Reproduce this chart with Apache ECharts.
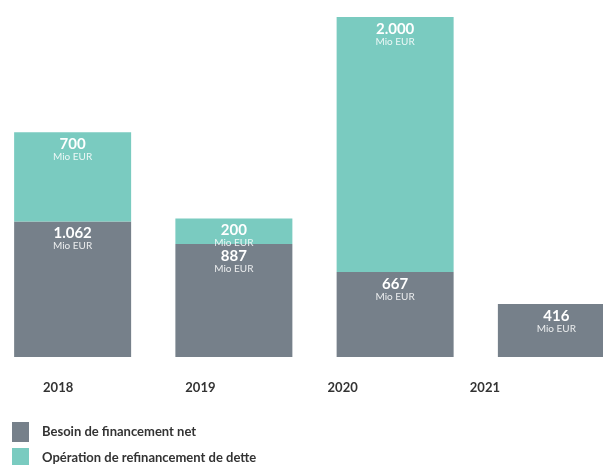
<!DOCTYPE html>
<html>
<head>
<meta charset="utf-8">
<script src="https://cdn.jsdelivr.net/npm/echarts@6/dist/echarts.min.js"></script>
<style>
  html, body { margin: 0; padding: 0; background: #fff; }
  #chart { width: 603px; height: 465px; }
</style>
</head>
<body>
<div id="chart"></div>
<script>
var years = ['2018', '2019', '2020', '2021'];
var besoin = [1062, 887, 667, 416];
var refinancement = [700, 200, 2000, '-'];
var seriesNames = ['Besoin de financement net', 'Opération de refinancement de dette'];

var totals = besoin.map(function (v, i) {
    return v + (refinancement[i] === '-' ? 0 : refinancement[i]);
});

function fmt(n) {
    return String(n).replace(/\B(?=(\d{3})+(?!\d))/g, '.');
}

var labelOpt = {
    show: true,
    position: 'insideTop',
    distance: 5,
    formatter: function (p) {
        return '{v|' + fmt(p.value) + '}\n{u|Mio EUR}';
    },
    rich: {
        v: { color: '#fff', fontSize: 15, fontWeight: 'bold', fontFamily: 'Lato', lineHeight: 14 },
        u: { color: 'rgba(255,255,255,0.85)', fontSize: 10, fontFamily: 'Lato', lineHeight: 11 }
    }
};

var legendText = { color: '#333', fontSize: 13, fontWeight: 'bold', fontFamily: 'Lato', padding: [0, 0, 0, 8] };

var chart = echarts.init(document.getElementById('chart'));
var option = {
    animation: false,
    textStyle: { fontFamily: 'Lato' },
    // two legends so the second row can run past the bottom edge
    legend: [
        {
            left: 12, top: 422, padding: 0, itemWidth: 17, itemHeight: 20, icon: 'rect',
            textStyle: legendText, data: [seriesNames[0]]
        },
        {
            left: 12, top: 448, padding: 0, itemWidth: 17, itemHeight: 20, icon: 'rect',
            textStyle: legendText, data: [seriesNames[1]]
        }
    ],
    grid: [
        { left: -8, right: -34, top: 17, bottom: 108, outerBoundsMode: 'none' },
        { left: -13, right: 47, top: 17, bottom: 108, outerBoundsMode: 'none' }
    ],
    xAxis: [
        {
            type: 'category', gridIndex: 0, data: years,
            axisLine: { show: false }, axisTick: { show: false }, axisLabel: { show: false }
        },
        {
            type: 'category', gridIndex: 1, data: years,
            axisLine: { show: false }, axisTick: { show: false },
            axisLabel: { color: '#333', fontSize: 13, fontWeight: 'bold', fontFamily: 'Lato', margin: 24 }
        }
    ],
    yAxis: [
        { type: 'value', gridIndex: 0, min: 0, max: Math.max.apply(null, totals), show: false },
        { type: 'value', gridIndex: 1, min: 0, max: 1, show: false }
    ],
    series: [
        {
            name: seriesNames[0], type: 'bar', stack: 'total', barWidth: 117,
            xAxisIndex: 0, yAxisIndex: 0,
            itemStyle: { color: '#76808a' },
            label: labelOpt,
            data: besoin
        },
        {
            name: seriesNames[1], type: 'bar', stack: 'total', barWidth: 117,
            xAxisIndex: 0, yAxisIndex: 0,
            itemStyle: { color: '#7acbc0' },
            label: labelOpt,
            data: refinancement
        }
    ]
};
chart.setOption(option);
</script>
</body>
</html>
